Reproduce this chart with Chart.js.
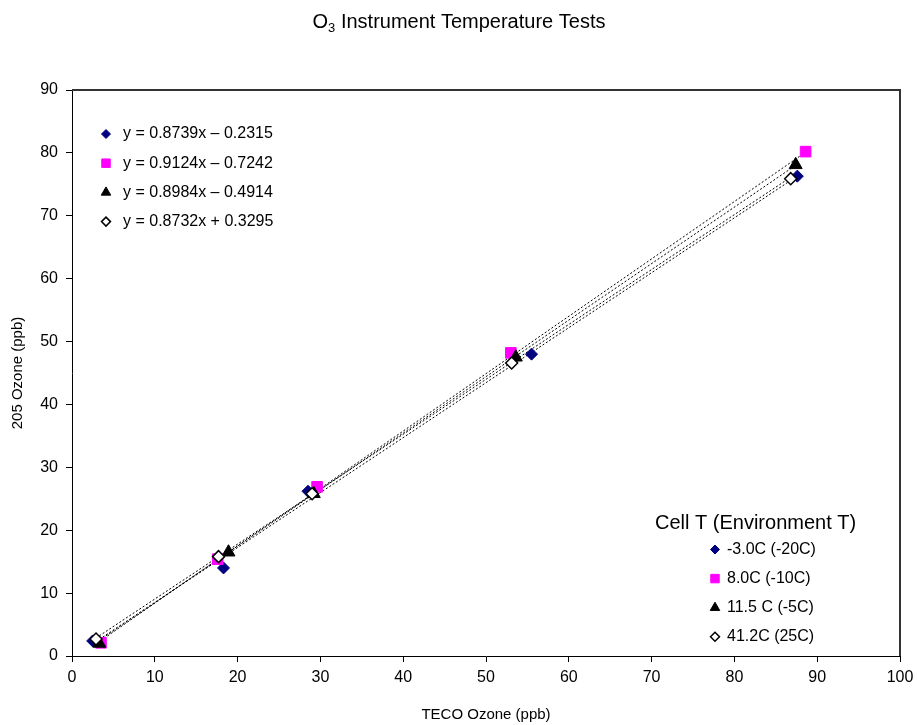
<!DOCTYPE html>
<html>
<head>
<meta charset="utf-8">
<script src="https://cdn.jsdelivr.net/npm/chart.js@4/dist/chart.umd.min.js"></script>
<style>
  html, body { margin: 0; padding: 0; background: #fff; }
  #wrap { width: 917px; height: 725px; }
</style>
</head>
<body>
<div id="wrap"><canvas id="myChart"></canvas></div>
<script>
// series names (legend) and trendline labels
var seriesNames = ['-3.0C (-20C)', '8.0C (-10C)', '11.5 C (-5C)', '41.2C (25C)'];
var fitLabels = ['y = 0.8739x \u2013 0.2315', 'y = 0.9124x \u2013 0.7242', 'y = 0.8984x \u2013 0.4914', 'y = 0.8732x + 0.3295'];
var fitSlope = [0.8739, 0.9124, 0.8984, 0.8732];
var fitIntercept = [-0.2315, -0.7242, -0.4914, 0.3295];

// TECO ozone (x) and 205 ozone (y)
var tecoA = [2.5, 18.3, 28.5, 55.5, 87.6];
var o205A = [2.4, 14.0, 26.2, 48.0, 76.3];
var tecoB = [3.5, 17.6, 29.6, 53.0, 88.6];
var o205B = [2.1, 15.4, 26.9, 48.2, 80.2];
var tecoC = [3.3, 18.9, 29.2, 53.6, 87.4];
var o205C = [2.0, 16.5, 25.8, 47.5, 78.1];
var tecoD = [2.9, 17.7, 29.0, 53.1, 86.8];
var o205D = [2.7, 15.8, 25.8, 46.6, 75.9];

var xTicks = [0, 10, 20, 30, 40, 50, 60, 70, 80, 90, 100];
var yTicks = [0, 10, 20, 30, 40, 50, 60, 70, 80, 90];

var FONT = '"Liberation Sans", Arial, sans-serif';

var styles = [
  {pointStyle: 'rectRot', radius: 6, bg: '#000080', border: '#000080', bw: 1, lr: 4.5},
  {pointStyle: 'rect', radius: 7.5, bg: '#FF00FF', border: '#FF00FF', bw: 1, lr: 6},
  {pointStyle: 'triangle', radius: 7.5, bg: '#000000', border: '#000000', bw: 1, lr: 5.5},
  {pointStyle: 'rectRot', radius: 6, bg: '#FFFFFF', border: '#000000', bw: 1.5, lr: 4.5}
];

var xs = [tecoA, tecoB, tecoC, tecoD];
var ys = [o205A, o205B, o205C, o205D];

function pts(x, y) {
  return x.map(function (v, i) { return {x: v, y: y[i]}; });
}

var datasets = [];
// trendlines, from smallest to largest x of each series
xs.forEach(function (x, i) {
  var lo = Math.min.apply(null, x), hi = Math.max.apply(null, x);
  datasets.push({
    label: fitLabels[i],
    data: [{x: lo, y: fitSlope[i] * lo + fitIntercept[i]}, {x: hi, y: fitSlope[i] * hi + fitIntercept[i]}],
    showLine: true,
    borderColor: '#000',
    borderWidth: 1,
    borderDash: [2, 2],
    pointRadius: 0,
    order: 10
  });
});
xs.forEach(function (x, i) {
  var s = styles[i];
  datasets.push({
    label: seriesNames[i],
    data: pts(x, ys[i]),
    pointStyle: s.pointStyle,
    pointRadius: s.radius,
    backgroundColor: s.bg,
    borderColor: s.border,
    pointBorderWidth: s.bw,
    showLine: false,
    order: 4 - i
  });
});

function marker(ctx, s, x, y, r) {
  ctx.save();
  ctx.fillStyle = s.bg;
  ctx.strokeStyle = s.border;
  ctx.lineWidth = s.bw;
  Chart.helpers.drawPoint(ctx, {pointStyle: s.pointStyle, radius: r, rotation: 0, borderWidth: s.bw}, x, y);
  ctx.restore();
}

var extras = {
  id: 'extras',
  beforeDatasetsDraw: function (chart) {
    var ctx = chart.ctx, a = chart.chartArea;
    ctx.save();
    ctx.strokeStyle = '#333';
    ctx.lineWidth = 2;
    ctx.beginPath();
    ctx.moveTo(a.left, a.top);
    ctx.lineTo(a.right, a.top);
    ctx.lineTo(a.right, a.bottom);
    ctx.stroke();
    ctx.restore();
  },
  afterDraw: function (chart) {
    var ctx = chart.ctx;
    ctx.save();
    // title with subscript
    var big = '20px ' + FONT, small = '13px ' + FONT;
    var t1 = 'O', t2 = '3', t3 = ' Instrument Temperature Tests';
    ctx.font = big;
    var w1 = ctx.measureText(t1).width, w3 = ctx.measureText(t3).width;
    ctx.font = small;
    var w2 = ctx.measureText(t2).width;
    var x0 = 459 - (w1 + w2 + w3) / 2, ty = 22;
    ctx.fillStyle = '#000';
    ctx.textBaseline = 'middle';
    ctx.textAlign = 'left';
    ctx.font = big;
    ctx.fillText(t1, x0, ty);
    ctx.font = small;
    ctx.fillText(t2, x0 + w1, ty + 6);
    ctx.font = big;
    ctx.fillText(t3, x0 + w1 + w2, ty);

    // trendline legend
    ctx.font = '16px ' + FONT;
    for (var i = 0; i < fitLabels.length; i++) {
      var yy = 134 + i * 29.2;
      marker(ctx, styles[i], 106, yy, styles[i].lr);
      ctx.fillStyle = '#000';
      ctx.fillText(fitLabels[i], 123, yy);
    }

    // series legend
    ctx.font = '20px ' + FONT;
    ctx.fillText('Cell T (Environment T)', 655, 523);
    ctx.font = '16px ' + FONT;
    for (var j = 0; j < seriesNames.length; j++) {
      var y2 = 549.5 + j * 29.1;
      marker(ctx, styles[j], 715, y2, styles[j].lr);
      ctx.fillStyle = '#000';
      ctx.fillText(seriesNames[j], 727, y2);
    }
    ctx.restore();
  }
};

var ctx = document.getElementById('myChart').getContext('2d');
var chart = new Chart(ctx, {
  type: 'scatter',
  data: {datasets: datasets},
  plugins: [extras],
  options: {
    responsive: true,
    maintainAspectRatio: false,
    animation: false,
    events: [],
    layout: {padding: {left: 0, top: 90, right: 17, bottom: 0}},
    plugins: {
      legend: {display: false},
      title: {display: false},
      tooltip: {enabled: false}
    },
    scales: {
      x: {
        type: 'linear',
        min: 0, max: 100,
        afterBuildTicks: function (s) { s.ticks = xTicks.map(function (v) { return {value: v}; }); },
        afterFit: function (s) { s.height = 69; s.paddingRight = 0; s.paddingLeft = 0; },
        grid: {drawOnChartArea: false, color: '#000', tickLength: 6, tickWidth: 1},
        border: {color: '#000', width: 1},
        ticks: {color: '#000', font: {family: FONT, size: 16}, padding: 6, maxRotation: 0},
        title: {display: true, text: 'TECO Ozone (ppb)', color: '#000', font: {family: FONT, size: 15}, padding: {top: 0, bottom: 1}}
      },
      y: {
        type: 'linear',
        min: 0, max: 90,
        afterBuildTicks: function (s) { s.ticks = yTicks.map(function (v) { return {value: v}; }); },
        afterFit: function (s) { s.width = 72; },
        grid: {drawOnChartArea: false, color: '#000', tickLength: 6, tickWidth: 1},
        border: {color: '#000', width: 1},
        ticks: {color: '#000', font: {family: FONT, size: 16}, padding: 8},
        title: {display: true, text: '205 Ozone (ppb)', color: '#000', font: {family: FONT, size: 15}, padding: {top: 9, bottom: 0}}
      }
    }
  }
});
</script>
</body>
</html>
